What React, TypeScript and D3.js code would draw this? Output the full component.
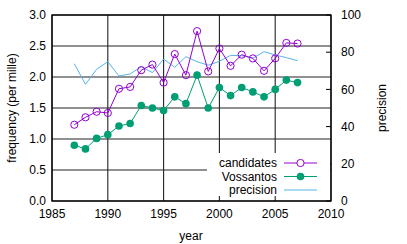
import React from "react";
import * as d3 from "d3";

const years = [1987, 1988, 1989, 1990, 1991, 1992, 1993, 1994, 1995, 1996, 1997, 1998, 1999, 2000, 2001, 2002, 2003, 2004, 2005, 2006, 2007];
const candidates = [1.23, 1.35, 1.44, 1.42, 1.81, 1.84, 2.11, 2.2, 1.91, 2.37, 2.03, 2.74, 2.09, 2.46, 2.18, 2.36, 2.3, 2.1, 2.3, 2.55, 2.54];
const vossantos = [0.9, 0.84, 1.01, 1.07, 1.21, 1.25, 1.54, 1.5, 1.46, 1.68, 1.57, 2.03, 1.5, 1.83, 1.7, 1.83, 1.76, 1.68, 1.8, 1.95, 1.91];
const precision = [73.8, 62.7, 70.8, 74.9, 67.2, 68.3, 72.2, 69, 76.3, 71.9, 77.6, 74.9, 73, 75.1, 78.3, 78.1, 76.8, 80.3, 78.5, 77.1, 75.4];
const xTicks = [1985, 1990, 1995, 2000, 2005, 2010];
const yTicks = [0, 0.5, 1, 1.5, 2, 2.5, 3];
const y2Ticks = [0, 20, 40, 60, 80, 100];
const legendLabels = ["candidates", "Vossantos", "precision"];

const C_CAND = "#9400d3";
const C_VOSS = "#009e73";
const C_PREC = "#56b4e9";

export default function App() {
  const L = 52, R = 331, T = 15, B = 201;
  const x = d3.scaleLinear().domain([1985, 2010]).range([L, R]);
  const y = d3.scaleLinear().domain([0, 3]).range([B, T]);
  const y2 = d3.scaleLinear().domain([0, 100]).range([B, T]);
  const font = "'Liberation Sans', Arial, sans-serif";

  const lineC = d3.line<number>().x((_, i) => x(years[i])).y((d) => y(d));
  const lineP = d3.line<number>().x((_, i) => x(years[i])).y((d) => y2(d));

  const legX = 277, legY = [163, 176.5, 190];
  const sampleX0 = 284, sampleX1 = 317;

  return (
    <svg width={407} height={244} style={{ position: "absolute", left: 0, top: 0 }} fontFamily={font}>
      <rect x={0} y={0} width={407} height={244} fill="white" />
      {/* grid */}
      <g stroke="#222" strokeWidth={1.1}>
        {yTicks.map((t) => (
          <line key={"gy" + t} x1={L} x2={R} y1={y(t)} y2={y(t)} />
        ))}
        {xTicks.map((t) => (
          <line key={"gx" + t} x1={x(t)} x2={x(t)} y1={T} y2={B} />
        ))}
      </g>
      {/* right ticks */}
      <g stroke="#000" strokeWidth={1}>
        {y2Ticks.map((t) => (
          <line key={"rt" + t} x1={R - 5} x2={R} y1={y2(t)} y2={y2(t)} />
        ))}
      </g>
      {/* data */}
      <path d={lineP(precision) || ""} fill="none" stroke={C_PREC} strokeWidth={1} />
      <path d={lineC(vossantos) || ""} fill="none" stroke={C_VOSS} strokeWidth={1} />
      {vossantos.map((v, i) => (
        <circle key={"v" + i} cx={x(years[i])} cy={y(v)} r={3.8} fill={C_VOSS} />
      ))}
      <path d={lineC(candidates) || ""} fill="none" stroke={C_CAND} strokeWidth={1} />
      {candidates.map((v, i) => (
        <circle key={"c" + i} cx={x(years[i])} cy={y(v)} r={3.6} fill="none" stroke={C_CAND} strokeWidth={1} />
      ))}
      {/* legend */}
      <rect x={207} y={153} width={R - 207 - 1} height={43} fill="white" />
      {legendLabels.map((lab, i) => (
        <text key={lab} x={legX} y={legY[i]} dy="0.35em" textAnchor="end" fontSize={12} fill="#000">
          {lab}
        </text>
      ))}
      <line x1={sampleX0} x2={sampleX1} y1={legY[0]} y2={legY[0]} stroke={C_CAND} strokeWidth={1} />
      <circle cx={(sampleX0 + sampleX1) / 2} cy={legY[0]} r={3.6} fill="white" stroke={C_CAND} strokeWidth={1} />
      <line x1={sampleX0} x2={sampleX1} y1={legY[1]} y2={legY[1]} stroke={C_VOSS} strokeWidth={1} />
      <circle cx={(sampleX0 + sampleX1) / 2} cy={legY[1]} r={3.8} fill={C_VOSS} />
      <line x1={sampleX0} x2={sampleX1} y1={legY[2]} y2={legY[2]} stroke={C_PREC} strokeWidth={1} />
      {/* border */}
      <rect x={L} y={T} width={R - L} height={B - T} fill="none" stroke="#000" strokeWidth={1.3} />
      {/* tick labels */}
      {yTicks.map((t) => (
        <text key={"yl" + t} x={46} y={y(t)} dy="0.35em" textAnchor="end" fontSize={12} fill="#000">
          {d3.format(".1f")(t)}
        </text>
      ))}
      {xTicks.map((t) => (
        <text key={"xl" + t} x={x(t)} y={218} textAnchor="middle" fontSize={12} fill="#000">
          {t}
        </text>
      ))}
      {y2Ticks.map((t) => (
        <text key={"y2l" + t} x={341} y={y2(t)} dy="0.35em" textAnchor="start" fontSize={12} fill="#000">
          {t}
        </text>
      ))}
      <text x={191} y={240} textAnchor="middle" fontSize={12} fill="#000">year</text>
      <text transform="translate(16,108) rotate(-90)" textAnchor="middle" fontSize={12} fill="#000">frequency (per mille)</text>
      <text transform="translate(386,108) rotate(-90)" textAnchor="middle" fontSize={12} fill="#000">precision</text>
    </svg>
  );
}
